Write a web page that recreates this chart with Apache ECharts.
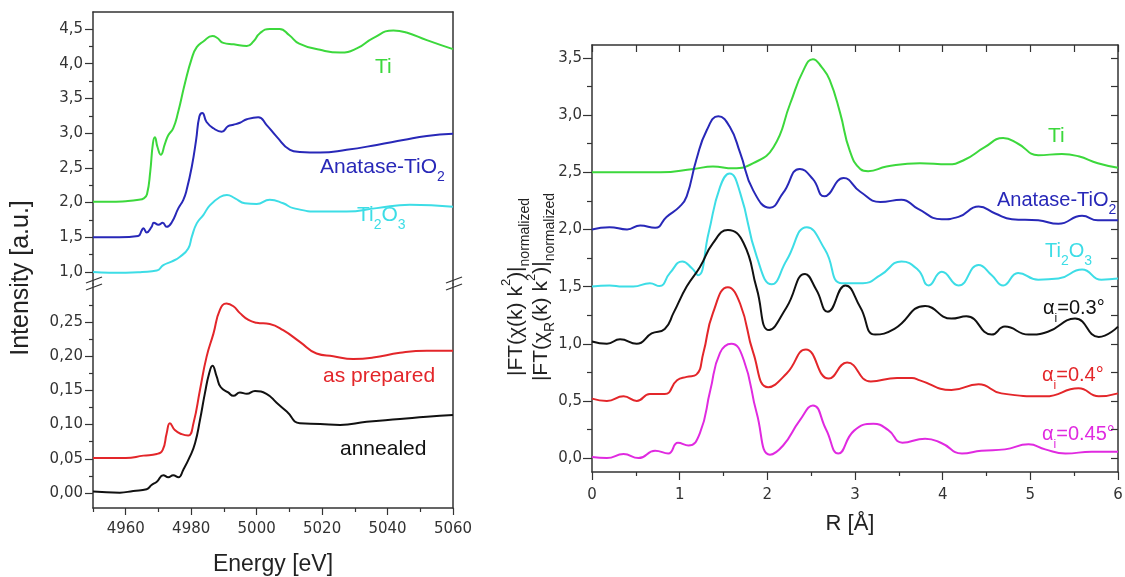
<!DOCTYPE html>
<html lang="en">
<head>
<meta charset="UTF-8">
<title>Ti K-edge XANES and Fourier transforms</title>
<style>
  html, body { margin: 0; padding: 0; background: #fff; }
  #chart { width: 1125px; height: 577px; }
</style>
</head>
<body>
<div id="chart"></div>
<script src="https://cdn.jsdelivr.net/npm/echarts@6.0.0/dist/echarts.min.js"></script>
<script>
// ---- data ----
// left panel, upper part: reference spectra (Energy [eV], intensity)
var xanesTi = [[4950,2.01],[4955,2.01],[4960,2.02],[4964,2.04],[4965.5,2.06],[4966.5,2.12],[4967.5,2.45],[4968.3,2.85],[4968.9,2.94],[4969.7,2.8],[4970.7,2.69],[4972,2.85],[4973,2.97],[4974.5,3.07],[4976,3.3],[4978,3.7],[4980.2,4.08],[4981.7,4.24],[4983.7,4.32],[4986.5,4.4],[4988,4.37],[4989.8,4.3],[4993,4.28],[4997,4.255],[4999,4.32],[5001,4.44],[5004,4.5],[5007,4.5],[5010,4.41],[5013,4.29],[5019.4,4.2],[5025.5,4.16],[5030.6,4.22],[5035.6,4.37],[5041.8,4.48],[5045.8,4.45],[5052,4.34],[5060,4.21]];
var xanesAnatase = [[4950,1.5],[4958,1.5],[4963.8,1.52],[4964.9,1.6],[4965.4,1.63],[4966.4,1.57],[4967.9,1.65],[4968.6,1.71],[4970,1.68],[4971.3,1.71],[4972.5,1.65],[4974,1.71],[4976.1,1.92],[4977.6,2.04],[4978.6,2.18],[4980.2,2.52],[4981.5,2.9],[4982.5,3.24],[4983.4,3.29],[4984.7,3.16],[4986.8,3.07],[4989.3,3.02],[4991.3,3.1],[4992.9,3.12],[4994.9,3.15],[4997,3.2],[5000.5,3.23],[5003,3.12],[5006.1,2.95],[5010.2,2.76],[5013.2,2.73],[5019.4,2.72],[5027.5,2.76],[5036.7,2.83],[5044.8,2.9],[5052,2.96],[5060,2.99]];
var xanesTi2O3 = [[4950,1.0],[4955,0.99],[4960,0.99],[4965,1.0],[4969.5,1.02],[4971.5,1.1],[4974,1.15],[4976.6,1.22],[4979.1,1.34],[4980.2,1.51],[4981.7,1.7],[4983.7,1.82],[4985.7,1.96],[4988.8,2.08],[4990.9,2.11],[4993.4,2.06],[4996.4,1.99],[5000,1.98],[5004,2.04],[5008.1,1.99],[5011.2,1.92],[5019.4,1.87],[5027.5,1.87],[5036.7,1.92],[5046.8,1.97],[5060,1.94]];
// left panel, lower part: film spectra
var xanesPrepared = [[4950,0.051],[4960,0.051],[4965.4,0.0546],[4969.5,0.057],[4971.3,0.063],[4972.5,0.087],[4973.5,0.102],[4975,0.092],[4977.1,0.086],[4979.1,0.084],[4980.7,0.102],[4982.7,0.151],[4984.7,0.199],[4986.8,0.233],[4988.8,0.268],[4990.8,0.277],[4992.9,0.273],[4994.9,0.263],[4997.5,0.253],[5000,0.249],[5004,0.247],[5008.1,0.238],[5013.2,0.221],[5018.3,0.204],[5023.4,0.2],[5029.5,0.196],[5035.6,0.198],[5043.8,0.205],[5052,0.208],[5060,0.208]];
var xanesAnnealed = [[4950,0.002],[4958.2,0.0004],[4962.3,0.003],[4966.4,0.0054],[4967.9,0.0117],[4969.5,0.0165],[4971.5,0.026],[4973,0.023],[4974.5,0.026],[4976.1,0.023],[4977.6,0.034],[4979.6,0.053],[4981.2,0.073],[4982.7,0.107],[4984.2,0.146],[4985.5,0.175],[4986.5,0.186],[4987.8,0.17],[4989,0.155],[4991.3,0.147],[4992.9,0.142],[4994.9,0.147],[4997,0.145],[4999.5,0.149],[5003,0.145],[5006.1,0.132],[5009.2,0.119],[5013.2,0.102],[5019.4,0.101],[5025.5,0.0994],[5033.6,0.104],[5043.8,0.108],[5052,0.1115],[5060,0.114]];
// right panel: |FT| vs R [A]
var ftTi = [[0,2.5],[0.4,2.5],[0.78,2.5],[1.16,2.53],[1.38,2.55],[1.61,2.535],[1.84,2.58],[2.07,2.72],[2.26,3.1],[2.41,3.39],[2.52,3.49],[2.62,3.42],[2.71,3.31],[2.83,3.02],[2.94,2.69],[3.06,2.53],[3.15,2.51],[3.36,2.55],[3.74,2.58],[4.06,2.57],[4.25,2.61],[4.48,2.72],[4.69,2.8],[4.86,2.75],[5.09,2.65],[5.36,2.66],[5.55,2.64],[5.77,2.58],[6,2.54]];
var ftAnatase = [[0,2.0],[0.2,2.02],[0.4,2.0],[0.55,2.035],[0.72,2.015],[0.85,2.11],[1.0,2.2],[1.08,2.29],[1.19,2.61],[1.31,2.87],[1.44,2.99],[1.57,2.9],[1.69,2.67],[1.84,2.34],[2.03,2.19],[2.18,2.32],[2.37,2.53],[2.52,2.44],[2.65,2.29],[2.87,2.45],[3.06,2.33],[3.29,2.24],[3.53,2.26],[3.72,2.18],[3.99,2.09],[4.18,2.11],[4.41,2.2],[4.6,2.14],[4.79,2.09],[5.09,2.08],[5.32,2.05],[5.59,2.12],[5.77,2.08],[6,2.08]];
var ftTi2O3 = [[0,1.5],[0.2,1.51],[0.35,1.5],[0.47,1.5],[0.66,1.53],[0.77,1.505],[0.89,1.62],[1.03,1.72],[1.14,1.66],[1.21,1.6],[1.33,1.97],[1.46,2.37],[1.57,2.49],[1.69,2.32],[1.88,1.76],[2.05,1.52],[2.22,1.73],[2.45,2.02],[2.66,1.82],[2.85,1.53],[3.09,1.53],[3.29,1.6],[3.53,1.72],[3.72,1.645],[3.84,1.51],[3.99,1.63],[4.18,1.51],[4.41,1.69],[4.56,1.6],[4.69,1.51],[4.86,1.62],[5.09,1.56],[5.32,1.57],[5.59,1.65],[5.81,1.56],[6,1.57]];
var ftAlpha03 = [[0,1.02],[0.17,1.0],[0.32,1.04],[0.51,1.0],[0.68,1.09],[0.83,1.13],[0.93,1.27],[1.08,1.5],[1.23,1.67],[1.38,1.88],[1.55,1.995],[1.73,1.88],[1.88,1.48],[2.02,1.12],[2.22,1.32],[2.43,1.61],[2.56,1.47],[2.69,1.28],[2.89,1.51],[3.06,1.32],[3.23,1.08],[3.45,1.13],[3.8,1.33],[4.1,1.22],[4.27,1.24],[4.56,1.08],[4.71,1.15],[4.98,1.08],[5.2,1.105],[5.51,1.22],[5.78,1.06],[6,1.15]];
var ftAlpha04 = [[0,0.52],[0.17,0.5],[0.36,0.54],[0.51,0.5],[0.66,0.56],[0.83,0.56],[0.97,0.68],[1.08,0.71],[1.19,0.73],[1.27,0.92],[1.38,1.27],[1.55,1.495],[1.69,1.35],[1.84,0.92],[2.01,0.62],[2.22,0.74],[2.44,0.95],[2.7,0.695],[2.91,0.835],[3.18,0.67],[3.48,0.7],[3.65,0.7],[3.74,0.68],[4.1,0.595],[4.41,0.645],[4.67,0.566],[5.17,0.54],[5.55,0.61],[5.78,0.54],[6,0.566]];
var ftAlpha045 = [[0,0.01],[0.17,0.0],[0.36,0.035],[0.53,0.0],[0.72,0.064],[0.87,0.04],[0.98,0.134],[1.1,0.11],[1.23,0.216],[1.35,0.595],[1.46,0.92],[1.59,1.0],[1.73,0.86],[1.88,0.39],[2.03,0.03],[2.18,0.11],[2.37,0.33],[2.52,0.46],[2.67,0.25],[2.81,0.04],[2.99,0.24],[3.21,0.3],[3.38,0.245],[3.54,0.135],[3.8,0.17],[3.99,0.13],[4.22,0.04],[4.44,0.064],[4.71,0.076],[4.98,0.12],[5.17,0.076],[5.4,0.04],[5.7,0.055],[6,0.055]];

// tick positions
var energyMajor = [4960, 4980, 5000, 5020, 5040, 5060];
var energyMinor = [4950, 4970, 4990, 5010, 5030, 5050];
var refMajor = [1.0, 1.5, 2.0, 2.5, 3.0, 3.5, 4.0, 4.5];
var refMinor = [1.25, 1.75, 2.25, 2.75, 3.25, 3.75, 4.25];
var filmMajor = [0, 0.05, 0.1, 0.15, 0.2, 0.25];
var filmMinor = [0.025, 0.075, 0.125, 0.175, 0.225, 0.275];
var rMajor = [0, 1, 2, 3, 4, 5, 6];
var rMinor = [0.5, 1.5, 2.5, 3.5, 4.5, 5.5];
var ftMajor = [0, 0.5, 1.0, 1.5, 2.0, 2.5, 3.0, 3.5];
var ftMinor = [0.25, 0.75, 1.25, 1.75, 2.25, 2.75, 3.25];

var FONT = 'Liberation Sans, Arial, sans-serif';
var TICK_FONT = 'DejaVu Sans, sans-serif';
var INK = '#333';
var GREEN = '#3cd83c', BLUE = '#2828b8', CYAN = '#3ddde6';
var BLACK = '#111111', RED = '#e3262a', MAGENTA = '#e02ae0';

function comma(d) {
  return function (v) { return v.toFixed(d).replace('.', ','); };
}

function axis(o) {
  return {
    type: 'value', gridIndex: o.grid, position: o.pos, min: o.min, max: o.max,
    axisLine: { show: !!o.line, onZero: false, lineStyle: { color: INK, width: 1.5 } },
    axisTick: {
      show: !!o.ticks, inside: !!o.inside, length: o.len || 7,
      customValues: o.ticks, lineStyle: { color: INK, width: 1.2 }
    },
    axisLabel: o.fmt ? {
      show: true, customValues: o.ticks, formatter: o.fmt, margin: o.margin,
      color: '#333', fontFamily: TICK_FONT, fontSize: 15
    } : { show: false },
    splitLine: { show: false }
  };
}

function line(data, color, xi, yi) {
  return {
    type: 'line', data: data, xAxisIndex: xi, yAxisIndex: yi,
    symbol: 'none', smooth: 0.5, silent: true,
    lineStyle: { color: color, width: 2 }
  };
}

function label(x, y, text, color, rich) {
  return {
    type: 'text', x: x, y: y, silent: true,
    style: {
      text: text, fill: color, fontFamily: FONT, fontSize: 21,
      align: 'left', verticalAlign: 'middle', rich: rich
    }
  };
}

// main text + lowered small subscript
function subRich(color, size, subSize) {
  return {
    m: { fill: color, fontFamily: FONT, fontSize: size, lineHeight: 34 },
    s: { fill: color, fontFamily: FONT, fontSize: subSize, lineHeight: subSize, verticalAlign: 'bottom' }
  };
}

function breakMark(x, y) {
  return [
    { type: 'rect', shape: { x: x - 3, y: y - 4, width: 6, height: 7 }, style: { fill: '#fff' }, silent: true },
    { type: 'line', shape: { x1: x - 7, y1: y - 1, x2: x + 9, y2: y - 7 }, style: { stroke: INK, lineWidth: 1.3 }, silent: true },
    { type: 'line', shape: { x1: x - 7, y1: y + 6, x2: x + 9, y2: y }, style: { stroke: INK, lineWidth: 1.3 }, silent: true }
  ];
}

var yRich = {
  m: { fill: '#222', fontFamily: FONT, fontSize: 21, lineHeight: 32 },
  sup: { fill: '#222', fontFamily: FONT, fontSize: 13, lineHeight: 16, verticalAlign: 'top' },
  sub: { fill: '#222', fontFamily: FONT, fontSize: 14, lineHeight: 14, verticalAlign: 'bottom' }
};

var chart = echarts.init(document.getElementById('chart'));

chart.setOption({
  animation: false,
  backgroundColor: '#fff',
  grid: [
    { left: 93, top: 12, width: 360, height: 272, show: false, outerBoundsMode: 'none' },
    { left: 93, top: 284, width: 360, height: 224, show: false, outerBoundsMode: 'none' },
    { left: 592, top: 45, width: 526, height: 427, show: false, outerBoundsMode: 'none' }
  ],
  xAxis: [
    axis({ grid: 0, pos: 'top', min: 4950, max: 5060, line: true }),
    axis({ grid: 1, pos: 'bottom', min: 4950, max: 5060, line: true, ticks: energyMajor, len: 7, fmt: comma(0), margin: 14 }),
    axis({ grid: 1, pos: 'bottom', min: 4950, max: 5060, ticks: energyMinor, len: 4 }),
    axis({ grid: 2, pos: 'bottom', min: 0, max: 6, line: true, ticks: rMajor, len: 8, fmt: comma(0), margin: 16 }),
    axis({ grid: 2, pos: 'bottom', min: 0, max: 6, ticks: rMinor, len: 4 }),
    axis({ grid: 2, pos: 'top', min: 0, max: 6, line: true, ticks: rMajor.concat(rMinor), inside: true, len: 7 })
  ],
  yAxis: [
    axis({ grid: 0, pos: 'left', min: 0.827, max: 4.745, line: true, ticks: refMajor, len: 8, fmt: comma(1), margin: 10 }),
    axis({ grid: 0, pos: 'left', min: 0.827, max: 4.745, ticks: refMinor, len: 4 }),
    axis({ grid: 0, pos: 'right', min: 0.827, max: 4.745, line: true }),
    axis({ grid: 1, pos: 'left', min: -0.022, max: 0.3056, line: true, ticks: filmMajor, len: 8, fmt: comma(2), margin: 10 }),
    axis({ grid: 1, pos: 'left', min: -0.022, max: 0.3056, ticks: filmMinor, len: 4 }),
    axis({ grid: 1, pos: 'right', min: -0.022, max: 0.3056, line: true }),
    axis({ grid: 2, pos: 'left', min: -0.122, max: 3.614, line: true, ticks: ftMajor, len: 9, fmt: comma(1), margin: 10 }),
    axis({ grid: 2, pos: 'left', min: -0.122, max: 3.614, ticks: ftMinor, len: 5 }),
    axis({ grid: 2, pos: 'right', min: -0.122, max: 3.614, line: true, ticks: ftMajor.concat(ftMinor), inside: true, len: 7 })
  ],
  series: [
    line(xanesTi, GREEN, 0, 0),
    line(xanesAnatase, BLUE, 0, 0),
    line(xanesTi2O3, CYAN, 0, 0),
    line(xanesPrepared, RED, 1, 3),
    line(xanesAnnealed, BLACK, 1, 3),
    line(ftTi, GREEN, 3, 6),
    line(ftAnatase, BLUE, 3, 6),
    line(ftTi2O3, CYAN, 3, 6),
    line(ftAlpha03, BLACK, 3, 6),
    line(ftAlpha04, RED, 3, 6),
    line(ftAlpha045, MAGENTA, 3, 6)
  ],
  graphic: [].concat(
    breakMark(93, 284),
    breakMark(453, 284),
    [
      // axis titles
      { type: 'text', x: 21, y: 278, rotation: Math.PI / 2, silent: true,
        style: { text: 'Intensity [a.u.]', fill: '#222', fontFamily: FONT, fontSize: 25, align: 'center', verticalAlign: 'middle' } },
      { type: 'text', x: 273, y: 565, silent: true,
        style: { text: 'Energy [eV]', fill: '#222', fontFamily: FONT, fontSize: 23, align: 'center', verticalAlign: 'middle' } },
      { type: 'text', x: 850, y: 524, silent: true,
        style: { text: 'R [Å]', fill: '#222', fontFamily: FONT, fontSize: 22, align: 'center', verticalAlign: 'middle' } },
      { type: 'text', x: 516, y: 287, rotation: Math.PI / 2, silent: true,
        style: { text: '{m||FT(χ(k) k}{sup|2}{m|)|}{sub|normalized}', rich: yRich, align: 'center', verticalAlign: 'middle' } },
      { type: 'text', x: 541, y: 287, rotation: Math.PI / 2, silent: true,
        style: { text: '{m||FT(χ}{sub|R}{m|(k) k}{sup|2}{m|)|}{sub|normalized}', rich: yRich, align: 'center', verticalAlign: 'middle' } },

      // left panel curve labels
      label(375, 67, 'Ti', GREEN),
      label(320, 167, '{m|Anatase-TiO}{s|2}', BLUE, subRich(BLUE, 21, 14)),
      label(357, 215, '{m|Ti}{s|2}{m|O}{s|3}', CYAN, subRich(CYAN, 21, 14)),
      label(323, 376, 'as prepared', RED),
      label(340, 449, 'annealed', BLACK),

      // right panel curve labels
      label(1048, 136, 'Ti', GREEN),
      label(997, 200, '{m|Anatase-TiO}{s|2}', BLUE, subRich(BLUE, 20, 14)),
      label(1045, 251, '{m|Ti}{s|2}{m|O}{s|3}', CYAN, subRich(CYAN, 20, 14)),
      label(1043, 308, '{m|α}{s|i}{m|=0.3°}', BLACK, subRich(BLACK, 20, 12)),
      label(1042, 375, '{m|α}{s|i}{m|=0.4°}', RED, subRich(RED, 20, 12)),
      label(1042, 434, '{m|α}{s|i}{m|=0.45°}', MAGENTA, subRich(MAGENTA, 20, 12))
    ]
  )
});
</script>
</body>
</html>
